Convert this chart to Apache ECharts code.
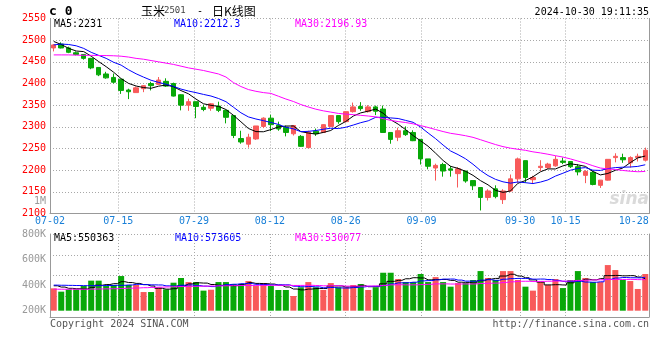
<!DOCTYPE html>
<html><head><meta charset="utf-8">
<script src="https://cdn.jsdelivr.net/npm/echarts@6/dist/echarts.min.js"></script>
<style>html,body{margin:0;padding:0;background:#fff}#c{width:660px;height:360px}</style>
</head><body><div id="c"></div>
<script>
const dates = ['07-02','07-03','07-04','07-05','07-08','07-09','07-10','07-11','07-12','07-15','07-16','07-17','07-18','07-19','07-22','07-23','07-24','07-25','07-26','07-29','07-30','07-31',
'08-01','08-02','08-05','08-06','08-07','08-08','08-09','08-12','08-13','08-14','08-15','08-16','08-19','08-20','08-21','08-22','08-23','08-26','08-27','08-28','08-29','08-30',
'09-02','09-03','09-04','09-05','09-06','09-09','09-10','09-11','09-12','09-13','09-18','09-19','09-20','09-23','09-24','09-25','09-26','09-27','09-30',
'10-08','10-09','10-10','10-11','10-14','10-15','10-16','10-17','10-18','10-21','10-22','10-23','10-24','10-25','10-28','10-29','10-30'];
const opens  = [2482,2491,2482,2471,2467,2458,2437,2422,2414,2410,2385,2379,2388,2400,2398,2405,2400,2374,2350,2358,2345,2343,2348,2338,2326,2273,2260,2272,2301,2320,2304,2299,2284,2278,2252,2290,2287,2301,2326,2312,2335,2347,2335,2346,2341,2287,2276,2291,2287,2271,2226,2205,2213,2203,2192,2198,2176,2160,2137,2157,2132,2152,2180,2222,2178,2206,2206,2210,2221,2220,2208,2188,2195,2165,2177,2229,2229,2217,2229,2223];
const closes = [2489,2482,2472,2467,2458,2436,2420,2413,2403,2384,2381,2390,2395,2395,2408,2394,2371,2350,2358,2347,2340,2353,2338,2322,2280,2265,2276,2302,2320,2305,2295,2287,2303,2255,2288,2284,2305,2326,2312,2335,2346,2342,2346,2336,2287,2271,2291,2282,2268,2226,2209,2211,2198,2200,2203,2175,2164,2137,2152,2139,2152,2180,2226,2183,2183,2209,2214,2225,2218,2208,2196,2197,2167,2177,2225,2232,2224,2229,2232,2246];
const lows   = [2474,2481,2470,2465,2455,2433,2417,2411,2400,2376,2364,2379,2380,2384,2397,2392,2370,2338,2337,2320,2336,2337,2334,2308,2274,2261,2252,2270,2297,2290,2291,2278,2280,2254,2251,2279,2286,2300,2307,2310,2333,2337,2333,2327,2286,2261,2267,2279,2267,2213,2202,2176,2185,2185,2160,2171,2154,2107,2130,2135,2122,2150,2171,2171,2168,2198,2203,2208,2214,2205,2188,2170,2165,2159,2176,2218,2217,2206,2220,2220];
const highs  = [2491,2495,2485,2474,2468,2459,2437,2427,2423,2410,2388,2393,2396,2404,2415,2412,2402,2375,2365,2358,2351,2355,2358,2338,2326,2291,2284,2302,2322,2328,2312,2303,2304,2281,2291,2296,2306,2327,2326,2335,2356,2357,2350,2349,2349,2287,2298,2301,2292,2271,2226,2215,2217,2210,2207,2198,2176,2160,2156,2165,2156,2190,2229,2222,2187,2223,2217,2233,2229,2221,2214,2200,2199,2177,2225,2239,2238,2232,2238,2252];
const volumesK = [375,349,367,367,393,435,435,393,401,471,401,401,346,346,383,367,419,456,424,424,357,364,424,424,409,409,432,393,416,393,362,362,315,383,424,383,362,416,383,383,401,409,362,383,497,497,448,424,424,487,424,463,424,388,416,416,440,510,456,440,510,510,440,388,357,424,401,448,377,440,510,456,424,424,557,518,440,432,370,487];
const ma5Head  = [2497,2490,2481,2475];
const ma10Head = [2489,2491,2490,2487,2481,2472,2465,2458,2449];
const ma30Head = [2466,2466,2466,2465.5,2465,2465,2464.5,2464.5,2464,2463,2461,2458,2456,2453,2450,2447,2444,2440,2436,2433,2430,2426,2422,2415,2402,2393,2386,2382,2379];
const vma5Head  = [395,385,375,372];
const vma10Head = [400,399,398,397,396,396,396,397,398];
const vma30Head = [368,368,368,368,368,369,370,371,372,374,376,378,380,382,384,386,388,389,390,391,392,393,394,395,396,397,397,398,398];
const dateLabels = ['07-02','07-15','07-29','08-12','08-26','09-09','09-30','10-15','10-28'];
const gridDates  = ['07-15','07-29','08-12','08-26','09-09','09-30','10-15'];
const priceTicks = {min:2100, max:2550, step:50};
const volTicks = {min:200, max:800, step:200};

function movingAvg(src, n, head){
  return src.map((v,i)=>{
    if(i < n-1) return head[i];
    let s=0; for(let k=i-n+1;k<=i;k++) s+=src[k];
    return +(s/n).toFixed(2);
  });
}
const RED='#f85a5a', GREEN='#08a808';
const MONO='"DejaVu Sans Mono", monospace';
const GRIDC='#a8a8a8', AXC='#999';
const dash=[1,2];

const chart = echarts.init(document.getElementById('c'));
const candleData = dates.map((d,i)=>[opens[i],closes[i],lows[i],highs[i]]);
const volData = dates.map((d,i)=>({value:volumesK[i], itemStyle:{color: closes[i]>=opens[i]?RED:GREEN}}));

function txt(x,y,text,fill,align,font){
  return {type:'text', x:x, y:y, silent:true, style:{text:text, fill:fill, font:font||('10px '+MONO), align:align||'left', textAlign:align||'left', verticalAlign:'middle', textVerticalAlign:'middle'}};
}
const CJK='"Noto Sans CJK SC", sans-serif';

chart.setOption({
  animation:false,
  grid:[
    {left:50, width:599, top:18.5, height:195},
    {left:50, width:599, top:234, height:76.7},
    {left:50, width:599, top:234, height:83}
  ],
  xAxis:[
    {type:'category', gridIndex:0, data:dates, boundaryGap:true, show:false, position:'bottom'},
    {type:'category', gridIndex:0, data:dates, boundaryGap:false, position:'bottom',
     axisLine:{show:true, onZero:false, lineStyle:{color:AXC, width:1}}, axisTick:{show:false},
     axisLabel:{interval:(i,v)=>dateLabels.includes(v), color:'#1a80d8', fontFamily:MONO, fontSize:10, margin:3},
     splitLine:{show:true, interval:(i,v)=>gridDates.includes(v), lineStyle:{color:GRIDC, type:dash}}},
    {type:'category', gridIndex:1, data:dates, boundaryGap:true, show:false, position:'bottom'},
    {type:'category', gridIndex:2, data:dates, boundaryGap:false, position:'bottom',
     axisLine:{show:true, onZero:false, lineStyle:{color:AXC}}, axisTick:{show:false}, axisLabel:{show:false},
     splitLine:{show:true, interval:(i,v)=>gridDates.includes(v), lineStyle:{color:GRIDC, type:dash}}}
  ],
  yAxis:[
    {type:'value', gridIndex:0, min:priceTicks.min, max:priceTicks.max, interval:priceTicks.step, position:'left',
     axisLine:{show:true, lineStyle:{color:AXC}}, axisTick:{show:false},
     axisLabel:{color:'#ff0000', fontFamily:MONO, fontSize:10, margin:4, formatter:v=>String(v)},
     splitLine:{show:true, lineStyle:{color:GRIDC, type:dash}}},
    {type:'value', gridIndex:0, min:priceTicks.min, max:priceTicks.max, position:'right',
     axisLine:{show:true, lineStyle:{color:AXC}}, axisTick:{show:false}, axisLabel:{show:false}, splitLine:{show:false}},
    {type:'value', gridIndex:1, min:volTicks.min, max:volTicks.max, interval:volTicks.step, position:'left',
     axisLine:{show:false}, axisTick:{show:false}, splitLine:{show:false},
     axisLabel:{color:'#999', fontFamily:MONO, fontSize:10, margin:4, formatter:v=>v+'K'}},
    {type:'value', gridIndex:2, min:0, max:4, interval:1, position:'left',
     axisLine:{show:true, lineStyle:{color:AXC}}, axisTick:{show:false}, axisLabel:{show:false},
     splitLine:{show:true, lineStyle:{color:GRIDC, type:dash}}},
    {type:'value', gridIndex:2, min:0, max:4, position:'right',
     axisLine:{show:true, lineStyle:{color:AXC}}, axisTick:{show:false}, axisLabel:{show:false}, splitLine:{show:false}}
  ],
  series:[
    {type:'candlestick', xAxisIndex:0, yAxisIndex:0, data:candleData, barWidth:5,
     itemStyle:{color:RED, color0:GREEN, borderColor:RED, borderColor0:GREEN, borderWidth:1}},
    {type:'line', xAxisIndex:0, yAxisIndex:0, data:movingAvg(closes,5,ma5Head), symbol:'none', lineStyle:{color:'#000', width:1}, z:5},
    {type:'line', xAxisIndex:0, yAxisIndex:0, data:movingAvg(closes,10,ma10Head), symbol:'none', lineStyle:{color:'#0000ff', width:1}, z:5},
    {type:'line', xAxisIndex:0, yAxisIndex:0, data:movingAvg(closes,30,ma30Head), symbol:'none', lineStyle:{color:'#ff00ff', width:1}, z:5},
    {type:'bar', xAxisIndex:2, yAxisIndex:2, data:volData, barWidth:6},
    {type:'line', xAxisIndex:2, yAxisIndex:2, data:movingAvg(volumesK,5,vma5Head), step:'middle', symbol:'none', lineStyle:{color:'#000', width:1}, z:5},
    {type:'line', xAxisIndex:2, yAxisIndex:2, data:movingAvg(volumesK,10,vma10Head), step:'middle', symbol:'none', lineStyle:{color:'#0000ff', width:1}, z:5},
    {type:'line', xAxisIndex:2, yAxisIndex:2, data:movingAvg(volumesK,30,vma30Head), step:'middle', symbol:'none', lineStyle:{color:'#ff00ff', width:1}, z:5}
  ],
  graphic:[
    txt(49,12,'c 0','#000','left','bold 13px '+MONO),
    txt(141,11,'玉米','#000','left','12px '+CJK),
    txt(164,11,'2501','#444','left','9px '+MONO),
    txt(197,11,'-','#000','left','10px '+MONO),
    txt(212,11,'日K线图','#000','left','12px '+CJK),
    txt(649,12,'2024-10-30 19:11:35','#000','right'),
    txt(54,24,'MA5:2231','#000'),
    txt(174,24,'MA10:2212.3','#0000ff'),
    txt(295,24,'MA30:2196.93','#ff00ff'),
    txt(46,201,'1M','#999','right'),
    txt(649,200,'sina','#dadada','right','italic bold 17px "DejaVu Sans"'),
    txt(54,238,'MA5:550363','#000'),
    txt(175,238,'MA10:573605','#0000ff'),
    txt(295,238,'MA30:530077','#ff00ff'),
    txt(50,324,'Copyright 2024 SINA.COM','#555'),
    txt(649,324,'http://finance.sina.com.cn','#555','right')
  ]
});
</script></body></html>
